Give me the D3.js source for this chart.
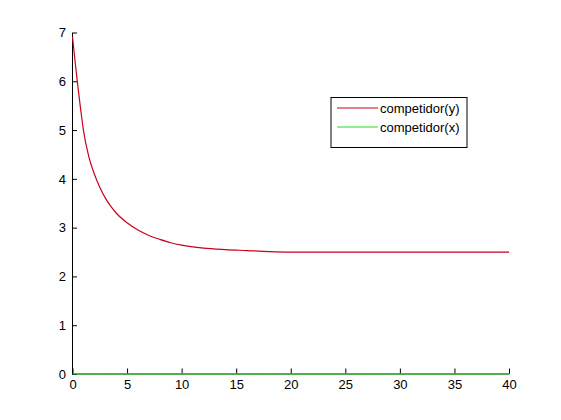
<!DOCTYPE html>
<html>
<head>
<meta charset="utf-8">
<script src="https://cdn.jsdelivr.net/npm/d3@7"></script>
<style>
  body { margin: 0; background: #fff; }
  svg { display: block; }
  text { font-family: "Liberation Sans", Arial, sans-serif; }
</style>
</head>
<body>
<svg id="chart"></svg>
<script>
// values
var tValues     = [0, 0.25, 0.5, 0.75, 1, 1.5, 2, 2.5, 3, 3.5, 4, 5, 6, 7, 8, 9, 10, 12, 14, 16, 18, 20, 25, 30, 35, 40];
var competidorY = [6.91, 6.38, 5.88, 5.42, 5.0, 4.45, 4.1, 3.83, 3.61, 3.44, 3.3, 3.1, 2.95, 2.84, 2.76, 2.69, 2.64, 2.58, 2.55, 2.53, 2.51, 2.5, 2.5, 2.5, 2.5, 2.5];
var competidorX = [0, 0, 0, 0, 0, 0, 0, 0, 0, 0, 0, 0, 0, 0, 0, 0, 0, 0, 0, 0, 0, 0, 0, 0, 0, 0];
var seriesNames = ["competidor(y)", "competidor(x)"];
var seriesColors = ["#c8001e", "#22dd22"];
var xTicks = [0, 5, 10, 15, 20, 25, 30, 35, 40];
var yTicks = [0, 1, 2, 3, 4, 5, 6, 7];

var width = 561;
var height = 420;

var x = d3.scaleLinear().domain([0, 40]).range([72.5, 509]);
var y = d3.scaleLinear().domain([0, 7]).range([374, 32.5]);

var svg = d3.select("#chart")
    .attr("width", width)
    .attr("height", height);

var xAxis = d3.axisBottom(x)
    .tickValues(xTicks)
    .tickFormat(d3.format("d"))
    .tickSizeInner(-5)
    .tickSizeOuter(0)
    .tickPadding(6);

var yAxis = d3.axisLeft(y)
    .tickValues(yTicks)
    .tickFormat(d3.format("d"))
    .tickSizeInner(-5)
    .tickSizeOuter(0)
    .tickPadding(6);

// d3 adds half a pixel itself, take it back so the domain sits on y(0) / x(0)
var gx = svg.append("g")
    .attr("transform", "translate(0," + (y(0) - 0.5) + ")")
    .call(xAxis);

var gy = svg.append("g")
    .attr("transform", "translate(" + (x(0) - 0.5) + ",0)")
    .call(yAxis);

[gx, gy].forEach(g => {
    g.selectAll("text").attr("font-size", 13).attr("fill", "#000")
        .attr("font-family", "'Liberation Sans', Arial, sans-serif");
    g.selectAll("line").attr("stroke", "#000");
    g.select(".domain").attr("stroke", "#000");
});

var line = d3.line()
    .x(d => x(d[0]))
    .y(d => y(d[1]))
    .curve(d3.curveMonotoneX);

var series = [competidorY, competidorX];

// lines drawn over the axes, green ends up on the x axis
svg.selectAll(".series")
    .data(series)
    .enter()
    .append("path")
        .classed("series", true)
        .attr("d", vals => line(tValues.map((t, i) => [t, vals[i]])))
        .attr("fill", "none")
        .attr("stroke", (d, i) => seriesColors[i])
        .attr("stroke-width", (d, i) => i === 0 ? 1.2 : 1);

// legend
var legend = svg.append("g").attr("transform", "translate(331,97.5)");

legend.append("rect")
    .attr("width", 136)
    .attr("height", 50)
    .attr("fill", "#fff")
    .attr("stroke", "#000");

var items = legend.selectAll(".item")
    .data(seriesNames)
    .enter()
    .append("g")
        .classed("item", true)
        .attr("transform", (d, i) => "translate(0," + (10.5 + i * 19) + ")");

items.append("line")
    .attr("x1", 6)
    .attr("x2", 47)
    .attr("stroke", (d, i) => seriesColors[i])
    .attr("stroke-width", 1);

items.append("text")
    .attr("x", 49)
    .attr("dy", "0.35em")
    .attr("font-size", 13)
    .attr("fill", "#000")
    .text(d => d);
</script>
</body>
</html>
